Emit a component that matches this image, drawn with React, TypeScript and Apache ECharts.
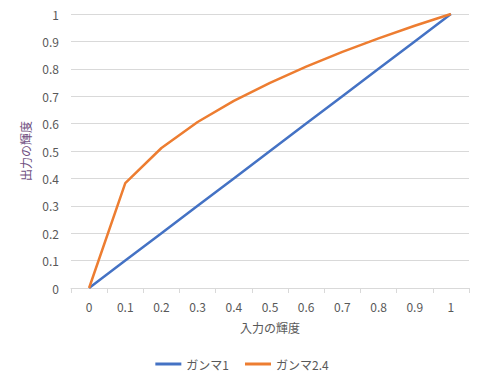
import React, { useEffect, useRef } from "react";
import * as echarts from "echarts";

const categories = ["0", "0.1", "0.2", "0.3", "0.4", "0.5", "0.6", "0.7", "0.8", "0.9", "1"];
const gamma1 = [0, 0.1, 0.2, 0.3, 0.4, 0.5, 0.6, 0.7, 0.8, 0.9, 1];
const gamma24 = [0, 0.383, 0.511, 0.606, 0.683, 0.749, 0.808, 0.862, 0.911, 0.957, 1];
const seriesNames = ["ガンマ1", "ガンマ2.4"];
const xTitle = "入力の輝度";
const yTitle = "出力の輝度";

const FONT = "'Noto Sans CJK JP', 'Noto Sans', sans-serif";

export default function App() {
  const ref = useRef<HTMLDivElement>(null);
  useEffect(() => {
    document.body.style.margin = "0";
    const chart = echarts.init(ref.current!, undefined, { renderer: "svg" });
    chart.setOption({
      animation: false,
      textStyle: { fontFamily: FONT },
      grid: { left: 71, right: 15, top: 14, bottom: 98 },
      legend: {
        bottom: 11,
        left: "center",
        itemWidth: 26,
        itemHeight: 3,
        itemGap: 16,
        icon: "rect",
        textStyle: { color: "#595959", fontSize: 12, fontFamily: FONT },
        data: seriesNames,
      },
      xAxis: {
        type: "category",
        data: categories,
        boundaryGap: true,
        name: xTitle,
        nameLocation: "middle",
        nameGap: 33,
        nameTextStyle: { color: "#595959", fontSize: 12, fontFamily: FONT },
        axisLine: { lineStyle: { color: "#d9d9d9", width: 1 } },
        axisTick: { show: true, alignWithLabel: false, length: 5, lineStyle: { color: "#d9d9d9" } },
        axisLabel: { color: "#595959", fontSize: 12, margin: 12, fontFamily: FONT },
        splitLine: { show: false },
      },
      yAxis: {
        type: "value",
        min: 0,
        max: 1,
        interval: 0.1,
        name: yTitle,
        nameLocation: "middle",
        nameGap: 39,
        nameRotate: 90,
        nameTextStyle: { color: "#6f4f7f", fontSize: 12, fontFamily: FONT },
        axisLine: { show: false },
        axisTick: { show: false },
        axisLabel: {
          color: "#595959",
          fontSize: 12,
          margin: 12,
          fontFamily: FONT,
          formatter: (v: number) => String(Math.round(v * 10) / 10),
        },
        splitLine: { lineStyle: { color: "#d9d9d9", width: 1 } },
      },
      series: [
        {
          name: seriesNames[0],
          type: "line",
          data: gamma1,
          symbol: "none",
          lineStyle: { color: "#4472C4", width: 2.5 },
          itemStyle: { color: "#4472C4" },
          z: 2,
        },
        {
          name: seriesNames[1],
          type: "line",
          data: gamma24,
          symbol: "none",
          lineStyle: { color: "#ED7D31", width: 2.5 },
          itemStyle: { color: "#ED7D31" },
          z: 3,
        },
      ],
    });
    return () => chart.dispose();
  }, []);
  return <div ref={ref} style={{ width: 484, height: 386 }} />;
}
